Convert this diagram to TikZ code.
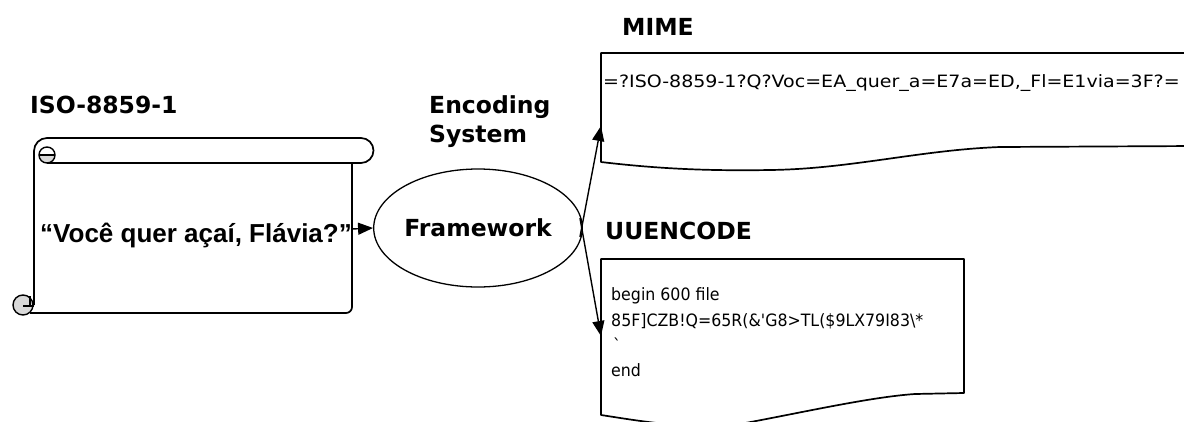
\documentclass[tikz,border=0pt]{standalone}
\usepackage{fontspec}
\usetikzlibrary{arrows.meta,calc,shapes.geometric}
\newfontfamily\vfont{DejaVu Sans}
\newfontfamily\afont{Liberation Sans}
\begin{document}
\begin{tikzpicture}[x=1pt,y=-1pt,
  outline/.style={draw=black, line width=1.7pt, line join=round},
  link/.style={draw=black, line width=1.4pt, -{Triangle[length=15pt,width=12pt]}},
  title/.style={inner sep=0pt, anchor=base west, font=\vfont\bfseries\fontsize{23.5}{28}\selectfont},
  code/.style={inner sep=0pt, anchor=base west, font=\vfont\fontsize{17}{20}\selectfont},
  curl/.style={fill=gray!30, draw=black, line width=1.4pt}]

% page
\useasboundingbox (0,0) rectangle (1184,421);
\clip (0,0) rectangle (1184,421);
\fill[white] (0,0) rectangle (1184,421);

% ---- scroll holding the source text ----
\draw[outline] (47,138) -- (361,138) arc (-90:90:12.5) -- (47,163);
\draw[outline] (47,138) arc (-90:-180:13) -- (34,305);
\draw[outline, rounded corners=6pt] (352,163) -- (352,313) -- (30,313);
\fill[gray!30] (55,155) arc (0:180:8) -- cycle;
\draw[line width=1.4pt] (47,155) circle (8);
\draw[line width=1.4pt] (39,155) -- (55,155);
\draw[curl] (23,305) circle (10);
\draw[line width=1.1pt] (30,296) -- (30,306) (23,306) -- (34,306);

\node[title] (isoT) at (30,113) {ISO-8859-1};
\node[inner sep=0pt, anchor=base west, font=\afont\bfseries\fontsize{26}{30}\selectfont] (quote) at (40,242) {“Você quer açaí, Flávia?”};
\coordinate (scrollOut) at (352,229);

% ---- encoding framework ----
\node[title] (encT) at (429,113) {Encoding};
\node[title] (sysT) at (429,142) {System};
\node[ellipse, draw=black, line width=1.3pt, minimum width=182pt, minimum height=118pt, inner sep=0pt,
      font=\vfont\bfseries\fontsize{23.5}{28}\selectfont] (fw) at (478,228) {Framework};

% ---- MIME output ----
\node[title] (mimeT) at (622,35) {MIME};
\draw[outline] (1195,53) -- (601,53) -- (601,162)
  .. controls (660,169) and (710,171) .. (770,170)
  .. controls (850,169) and (920,150) .. (1000,147) -- (1195,146);
\node[code] (mimeTxt) at (603,87) {\scalebox{1.118}[1]{=?ISO-8859-1?Q?Voc=EA\_quer\_a=E7a=ED,\_Fl=E1via=3F?=}};
\coordinate (mimeIn) at (601,126);

% ---- UUENCODE output ----
\node[title] (uuT) at (605,239) {UUENCODE};
\draw[outline] (601,259) -- (964,259) -- (964,393) -- (915,394)
  .. controls (870,397) and (800,413) .. (740,424)
  .. controls (690,430) and (640,421) .. (601,415) -- cycle;
\node[code] (u1) at (611,300.7) {\scalebox{0.93}[1]{begin 600 file}};
\node[code] (u2) at (611,326) {\scalebox{0.93}[1]{85F]CZB!Q=65R(\&\textquotesingle G8>TL(\$9LX79I83\textbackslash*}};
\node[code] (u3) at (613,351.3) {\scalebox{0.93}[1]{\textasciigrave}};
\node[code] (u4) at (611,376.7) {\scalebox{0.93}[1]{end}};
\coordinate (uuIn) at (601,336);

% ---- connectors ----
\draw[link] (scrollOut) -- (fw.west);
\draw[link] ($(fw.east)+(-3,9)$) -- (mimeIn);
\draw[link] ($(fw.east)+(-3,-10)$) -- (uuIn);
\end{tikzpicture}
\end{document}
